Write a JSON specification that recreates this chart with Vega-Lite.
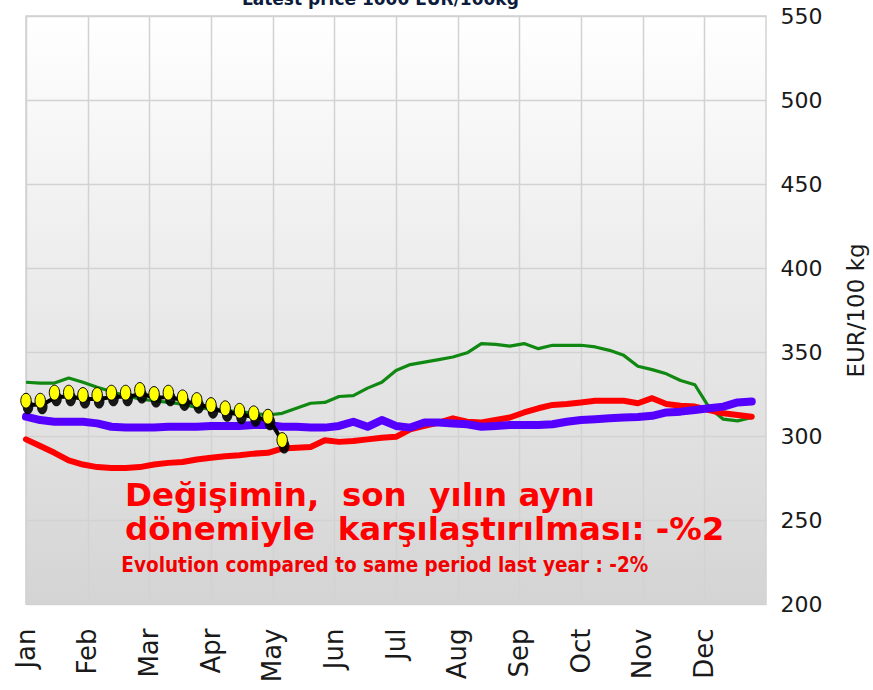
{
  "$schema": "https://vega.github.io/schema/vega-lite/v6.json",
  "width": 740,
  "height": 588,
  "autosize": {"type": "none"},
  "padding": {"left": 26, "top": 16, "right": 107, "bottom": 86},
  "background": "white",
  "datasets": {
    "prices": [
      {"series": "green", "week": 0, "price": 332}, {"series": "green", "week": 1, "price": 331.5}, {"series": "green", "week": 2, "price": 331.5}, {"series": "green", "week": 3, "price": 334.5}, {"series": "green", "week": 4, "price": 332}, {"series": "green", "week": 5, "price": 329}, {"series": "green", "week": 6, "price": 326.5}, {"series": "green", "week": 7, "price": 324}, {"series": "green", "week": 8, "price": 322}, {"series": "green", "week": 9, "price": 321}, {"series": "green", "week": 10, "price": 320}, {"series": "green", "week": 11, "price": 319}, {"series": "green", "week": 12, "price": 317}, {"series": "green", "week": 13, "price": 316}, {"series": "green", "week": 14, "price": 315}, {"series": "green", "week": 15, "price": 314.5}, {"series": "green", "week": 16, "price": 313.5}, {"series": "green", "week": 17, "price": 312.5}, {"series": "green", "week": 18, "price": 313.5}, {"series": "green", "week": 19, "price": 316.5}, {"series": "green", "week": 20, "price": 319.5}, {"series": "green", "week": 21, "price": 320}, {"series": "green", "week": 22, "price": 323.5}, {"series": "green", "week": 23, "price": 324}, {"series": "green", "week": 24, "price": 328.5}, {"series": "green", "week": 25, "price": 332}, {"series": "green", "week": 26, "price": 339}, {"series": "green", "week": 27, "price": 342.5}, {"series": "green", "week": 28, "price": 344}, {"series": "green", "week": 29, "price": 345.5}, {"series": "green", "week": 30, "price": 347}, {"series": "green", "week": 31, "price": 349.5}, {"series": "green", "week": 32, "price": 355}, {"series": "green", "week": 33, "price": 354.5}, {"series": "green", "week": 34, "price": 353.5}, {"series": "green", "week": 35, "price": 355}, {"series": "green", "week": 36, "price": 352}, {"series": "green", "week": 37, "price": 354}, {"series": "green", "week": 38, "price": 354}, {"series": "green", "week": 39, "price": 354}, {"series": "green", "week": 40, "price": 353}, {"series": "green", "week": 41, "price": 351}, {"series": "green", "week": 42, "price": 348}, {"series": "green", "week": 43, "price": 341.5}, {"series": "green", "week": 44, "price": 339.5}, {"series": "green", "week": 45, "price": 337}, {"series": "green", "week": 46, "price": 333}, {"series": "green", "week": 47, "price": 330.5}, {"series": "green", "week": 48, "price": 317}, {"series": "green", "week": 49, "price": 310}, {"series": "green", "week": 50, "price": 309}, {"series": "green", "week": 51, "price": 311},
      {"series": "red", "week": 0, "price": 298}, {"series": "red", "week": 1, "price": 294}, {"series": "red", "week": 2, "price": 290}, {"series": "red", "week": 3, "price": 285.5}, {"series": "red", "week": 4, "price": 283}, {"series": "red", "week": 5, "price": 281.5}, {"series": "red", "week": 6, "price": 281}, {"series": "red", "week": 7, "price": 281}, {"series": "red", "week": 8, "price": 281.5}, {"series": "red", "week": 9, "price": 283}, {"series": "red", "week": 10, "price": 284}, {"series": "red", "week": 11, "price": 284.5}, {"series": "red", "week": 12, "price": 286}, {"series": "red", "week": 13, "price": 287}, {"series": "red", "week": 14, "price": 288}, {"series": "red", "week": 15, "price": 288.5}, {"series": "red", "week": 16, "price": 289.5}, {"series": "red", "week": 17, "price": 290}, {"series": "red", "week": 18, "price": 292.5}, {"series": "red", "week": 19, "price": 293}, {"series": "red", "week": 20, "price": 293.5}, {"series": "red", "week": 21, "price": 297.5}, {"series": "red", "week": 22, "price": 296.5}, {"series": "red", "week": 23, "price": 297}, {"series": "red", "week": 24, "price": 298}, {"series": "red", "week": 25, "price": 299}, {"series": "red", "week": 26, "price": 299.5}, {"series": "red", "week": 27, "price": 304}, {"series": "red", "week": 28, "price": 306}, {"series": "red", "week": 29, "price": 308}, {"series": "red", "week": 30, "price": 310.5}, {"series": "red", "week": 31, "price": 308.5}, {"series": "red", "week": 32, "price": 308}, {"series": "red", "week": 33, "price": 309.5}, {"series": "red", "week": 34, "price": 311}, {"series": "red", "week": 35, "price": 314}, {"series": "red", "week": 36, "price": 316.5}, {"series": "red", "week": 37, "price": 318.5}, {"series": "red", "week": 38, "price": 319}, {"series": "red", "week": 39, "price": 320}, {"series": "red", "week": 40, "price": 321}, {"series": "red", "week": 41, "price": 321}, {"series": "red", "week": 42, "price": 321}, {"series": "red", "week": 43, "price": 319.5}, {"series": "red", "week": 44, "price": 322.5}, {"series": "red", "week": 45, "price": 319}, {"series": "red", "week": 46, "price": 318}, {"series": "red", "week": 47, "price": 317.5}, {"series": "red", "week": 48, "price": 315.5}, {"series": "red", "week": 49, "price": 313.5}, {"series": "red", "week": 50, "price": 312.5}, {"series": "red", "week": 51, "price": 311.5},
      {"series": "blue", "week": 0, "price": 311.5}, {"series": "blue", "week": 1, "price": 309.5}, {"series": "blue", "week": 2, "price": 308.5}, {"series": "blue", "week": 3, "price": 308.5}, {"series": "blue", "week": 4, "price": 308.5}, {"series": "blue", "week": 5, "price": 307.5}, {"series": "blue", "week": 6, "price": 305.5}, {"series": "blue", "week": 7, "price": 305}, {"series": "blue", "week": 8, "price": 305}, {"series": "blue", "week": 9, "price": 305}, {"series": "blue", "week": 10, "price": 305.5}, {"series": "blue", "week": 11, "price": 305.5}, {"series": "blue", "week": 12, "price": 305.5}, {"series": "blue", "week": 13, "price": 306}, {"series": "blue", "week": 14, "price": 306}, {"series": "blue", "week": 15, "price": 306}, {"series": "blue", "week": 16, "price": 306.5}, {"series": "blue", "week": 17, "price": 306.5}, {"series": "blue", "week": 18, "price": 305.5}, {"series": "blue", "week": 19, "price": 305.5}, {"series": "blue", "week": 20, "price": 305}, {"series": "blue", "week": 21, "price": 305}, {"series": "blue", "week": 22, "price": 306}, {"series": "blue", "week": 23, "price": 308.5}, {"series": "blue", "week": 24, "price": 305.5}, {"series": "blue", "week": 25, "price": 309.5}, {"series": "blue", "week": 26, "price": 306}, {"series": "blue", "week": 27, "price": 305}, {"series": "blue", "week": 28, "price": 308}, {"series": "blue", "week": 29, "price": 308}, {"series": "blue", "week": 30, "price": 307.5}, {"series": "blue", "week": 31, "price": 307}, {"series": "blue", "week": 32, "price": 305.5}, {"series": "blue", "week": 33, "price": 306}, {"series": "blue", "week": 34, "price": 306.5}, {"series": "blue", "week": 35, "price": 306.5}, {"series": "blue", "week": 36, "price": 306.5}, {"series": "blue", "week": 37, "price": 307}, {"series": "blue", "week": 38, "price": 308.5}, {"series": "blue", "week": 39, "price": 309.5}, {"series": "blue", "week": 40, "price": 310}, {"series": "blue", "week": 41, "price": 310.5}, {"series": "blue", "week": 42, "price": 311}, {"series": "blue", "week": 43, "price": 311.3}, {"series": "blue", "week": 44, "price": 312}, {"series": "blue", "week": 45, "price": 314}, {"series": "blue", "week": 46, "price": 314.5}, {"series": "blue", "week": 47, "price": 315.5}, {"series": "blue", "week": 48, "price": 316.5}, {"series": "blue", "week": 49, "price": 317.5}, {"series": "blue", "week": 50, "price": 320}, {"series": "blue", "week": 51, "price": 320.5},
      {"series": "current", "week": 0, "price": 321}, {"series": "current", "week": 1, "price": 321}, {"series": "current", "week": 2, "price": 325.8}, {"series": "current", "week": 3, "price": 325.8}, {"series": "current", "week": 4, "price": 324.4}, {"series": "current", "week": 5, "price": 324.4}, {"series": "current", "week": 6, "price": 325.8}, {"series": "current", "week": 7, "price": 325.8}, {"series": "current", "week": 8, "price": 327.4}, {"series": "current", "week": 9, "price": 325}, {"series": "current", "week": 10, "price": 325.8}, {"series": "current", "week": 11, "price": 323}, {"series": "current", "week": 12, "price": 321.4}, {"series": "current", "week": 13, "price": 318.4}, {"series": "current", "week": 14, "price": 316.5}, {"series": "current", "week": 15, "price": 315}, {"series": "current", "week": 16, "price": 313.5}, {"series": "current", "week": 17, "price": 311.5}, {"series": "current", "week": 18, "price": 297.6}
    ],
    "notes": [
      {"kind": "tr", "week": 6.95, "price": 258.6, "note": "Değişimin,\u00a0 son\u00a0 yılın aynı"},
      {"kind": "tr", "week": 6.95, "price": 238.1, "note": "dönemiyle\u00a0 karşılaştırılması: -%2"},
      {"kind": "en", "week": 6.7, "price": 219.0, "note": "Evolution compared to same period last year : -2%"},
      {"kind": "head", "week": 24.9, "price": 556.5, "note": "Latest price 1000 EUR/100kg"}
    ]
  },
  "encoding": {
    "x": {
      "field": "week", "type": "quantitative",
      "scale": {"domain": [0, 52], "nice": false, "zero": false},
      "axis": {
        "values": [0, 4.33333, 8.66667, 13, 17.33333, 21.66667, 26, 30.33333, 34.66667, 39, 43.33333, 47.66667],
        "labelExpr": "['Jan','Feb','Mar','Apr','May','Jun','Jul','Aug','Sep','Oct','Nov','Dec'][round(datum.value*12/52)]",
        "labelAngle": -90, "labelFontSize": 26, "labelFont": "DejaVu Sans", "labelColor": "#1a1a1a",
        "labelPadding": 24, "ticks": false, "domain": false, "grid": true, "gridColor": "#d2d2d2", "gridWidth": 1.5,
        "title": null, "labelBound": false, "labelOverlap": false, "labelFlush": false
      }
    },
    "y": {
      "field": "price", "type": "quantitative",
      "scale": {"domain": [200, 550], "nice": false, "zero": false},
      "axis": {
        "orient": "right", "values": [200, 250, 300, 350, 400, 450, 500, 550],
        "grid": true, "gridColor": "#d2d2d2", "gridWidth": 1.5, "ticks": false, "domain": false,
        "labelFontSize": 22, "labelFont": "DejaVu Sans", "labelColor": "#1a1a1a", "labelPadding": 14,
        "labelFlush": false, "labelBound": false, "labelOverlap": false,
        "title": "EUR/100 kg", "titleAngle": 270, "titleFontSize": 23, "titleFont": "DejaVu Sans",
        "titleFontWeight": "normal", "titleColor": "#1a1a1a", "titlePadding": 47
      }
    }
  },
  "layer": [
    {"data": {"name": "prices"}, "transform": [{"filter": "datum.series === 'green'"}],
     "mark": {"type": "line", "color": "#118811", "strokeWidth": 3.2, "strokeJoin": "round"}},
    {"data": {"name": "prices"}, "transform": [{"filter": "datum.series === 'red'"}],
     "mark": {"type": "line", "color": "#ff0000", "strokeWidth": 6, "strokeJoin": "round", "strokeCap": "round"}},
    {"data": {"name": "prices"}, "transform": [{"filter": "datum.series === 'blue'"}],
     "mark": {"type": "line", "color": "#5500ff", "strokeWidth": 8, "strokeJoin": "round", "strokeCap": "round"}},
    {"data": {"name": "prices"}, "transform": [{"filter": "datum.series === 'current'"}],
     "mark": {"type": "line", "color": "#000000", "strokeWidth": 4, "yOffset": 4, "xOffset": 2}},
    {"data": {"name": "prices"}, "transform": [{"filter": "datum.series === 'current'"}],
     "mark": {"type": "point", "filled": true, "color": "#000000", "opacity": 0.9, "size": 230, "xOffset": 2, "yOffset": 6,
              "shape": "M0,-1 A0.7,1 0 1,1 0,1 A0.7,1 0 1,1 0,-1 Z"}},
    {"data": {"name": "prices"}, "transform": [{"filter": "datum.series === 'current'"}],
     "mark": {"type": "point", "filled": true, "fill": "#ffff00", "stroke": "#000000", "strokeWidth": 1, "opacity": 1, "size": 220,
              "shape": "M0,-1 A0.7,1 0 1,1 0,1 A0.7,1 0 1,1 0,-1 Z"}},
    {"data": {"name": "notes"}, "transform": [{"filter": "datum.kind === 'tr'"}],
     "mark": {"type": "text", "align": "left", "baseline": "alphabetic", "font": "DejaVu Sans", "fontWeight": "bold", "fontSize": 32.5, "color": "#ff0000"},
     "encoding": {"text": {"field": "note"}}},
    {"data": {"name": "notes"}, "transform": [{"filter": "datum.kind === 'en'"}],
     "mark": {"type": "text", "align": "left", "baseline": "alphabetic", "font": "DejaVu Sans Condensed", "fontWeight": "bold", "fontSize": 20.5, "color": "#f20000"},
     "encoding": {"text": {"field": "note"}}},
    {"data": {"name": "notes"}, "transform": [{"filter": "datum.kind === 'head'"}],
     "mark": {"type": "text", "align": "center", "baseline": "alphabetic", "font": "DejaVu Sans", "fontWeight": "bold", "fontSize": 17, "color": "#0d1b3d", "clip": false},
     "encoding": {"text": {"field": "note"}}}
  ],
  "config": {
    "view": {
      "fill": {"gradient": "linear", "x1": 0, "y1": 0, "x2": 0, "y2": 1, "stops": [{"offset": 0, "color": "#ffffff"}, {"offset": 1, "color": "#d4d4d4"}]},
      "stroke": "#d2d2d2", "strokeWidth": 1.5
    }
  }
}
